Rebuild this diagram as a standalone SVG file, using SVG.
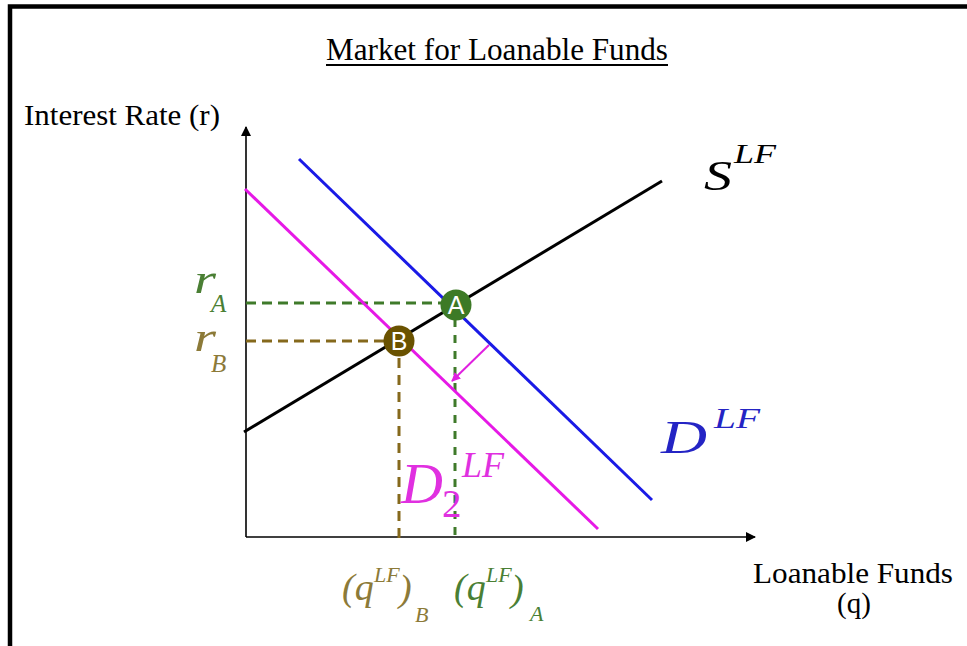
<svg xmlns="http://www.w3.org/2000/svg" width="967" height="646" viewBox="0 0 967 646">
<defs>
<style>
.serif{font-family:"Liberation Serif","Times New Roman",serif;}
.it{font-family:"Liberation Serif","Times New Roman",serif;font-style:italic;}
.lbl{font-family:"Liberation Sans",Arial,sans-serif;fill:#fff;text-anchor:middle;}
.green{fill:#4a7f34;}
.olive{fill:#8c7a38;}
</style>
<marker id="ah" viewBox="0 0 10 10" refX="9" refY="5" markerWidth="10" markerHeight="10" markerUnits="userSpaceOnUse" orient="auto"><path d="M0,0 L10,5 L0,10 z" fill="#000"/></marker>
<marker id="mh" viewBox="0 0 10 10" refX="9" refY="5" markerWidth="9" markerHeight="9" markerUnits="userSpaceOnUse" orient="auto"><path d="M0,0 L10,5 L0,10 z" fill="#e020e0"/></marker>
</defs>
<rect width="967" height="646" fill="#fff"/>
<rect x="10" y="6.5" width="1000" height="700" fill="none" stroke="#000" stroke-width="4.5"/>

<g id="title"><text class="serif" x="497" y="60" font-size="31" text-anchor="middle" textLength="342" lengthAdjust="spacingAndGlyphs">Market for Loanable Funds</text>
<line x1="326" y1="65" x2="668" y2="65" stroke="#000" stroke-width="1.8"/></g>

<g id="axes">
<line x1="246" y1="537" x2="246" y2="127" stroke="#000" stroke-width="1.6" marker-end="url(#ah)"/>
<line x1="246" y1="537" x2="755" y2="537" stroke="#000" stroke-width="1.6" marker-end="url(#ah)"/>
<text class="serif" x="24" y="125" font-size="30" textLength="196" lengthAdjust="spacingAndGlyphs">Interest Rate (r)</text>
<text class="serif" x="853" y="583" font-size="29" text-anchor="middle" textLength="200" lengthAdjust="spacingAndGlyphs">Loanable Funds</text>
<text class="serif" x="854" y="613" font-size="29" text-anchor="middle">(q)</text>
</g>

<g id="connectors">
<line x1="246" y1="303" x2="455" y2="303" stroke="#3f7a2a" stroke-width="3" stroke-dasharray="10,6"/>
<line x1="455" y1="303" x2="455" y2="539" stroke="#3f7a2a" stroke-width="3" stroke-dasharray="8,8"/>
<line x1="246" y1="341" x2="399" y2="341" stroke="#85691c" stroke-width="3" stroke-dasharray="10,6"/>
<line x1="399" y1="341" x2="399" y2="539" stroke="#85691c" stroke-width="3" stroke-dasharray="10,7"/>
<line x1="489" y1="345" x2="452" y2="381" stroke="#e020e0" stroke-width="2" marker-end="url(#mh)"/>
</g>

<g id="supply">
<line x1="244" y1="432" x2="662" y2="181" stroke="#000" stroke-width="3"/>
<text class="it" x="704" y="190" font-size="42" textLength="28" lengthAdjust="spacingAndGlyphs">S</text>
<text class="it" x="734" y="163" font-size="27" textLength="42" lengthAdjust="spacingAndGlyphs">LF</text>
</g>

<g id="demand">
<line x1="299" y1="159" x2="652" y2="500" stroke="#1a1ae6" stroke-width="3"/>
<text class="it" x="661" y="453" font-size="46" fill="#2424c4" textLength="46" lengthAdjust="spacingAndGlyphs">D</text>
<text class="it" x="714" y="428" font-size="30" fill="#2424c4" textLength="46" lengthAdjust="spacingAndGlyphs">LF</text>
</g>

<g id="demand2">
<line x1="245" y1="189" x2="598" y2="529" stroke="#e619e6" stroke-width="3"/>
<text class="it" x="401" y="503" font-size="58" fill="#e030e0">D</text>
<text class="serif" x="442" y="517" font-size="39" fill="#e030e0">2</text>
<text class="it" x="462" y="477" font-size="36" fill="#e030e0">LF</text>
</g>

<g id="pointA">
<circle cx="456" cy="305" r="15.5" fill="#3d7a26"/>
<text class="lbl" x="456" y="314" font-size="25">A</text>
</g>
<g id="pointB">
<circle cx="399" cy="341" r="15.5" fill="#6a5200"/>
<text class="lbl" x="399" y="350" font-size="25">B</text>
</g>

<g id="rA">
<text class="it green" x="194" y="293" font-size="42" textLength="22" lengthAdjust="spacingAndGlyphs">r</text>
<text class="it green" x="211" y="312" font-size="25">A</text>
</g>
<g id="rB">
<text class="it olive" x="194" y="351" font-size="42" textLength="22" lengthAdjust="spacingAndGlyphs">r</text>
<text class="it olive" x="211" y="372" font-size="25">B</text>
</g>

<g id="qB">
<text class="it olive" x="342" y="600" font-size="38">(q</text>
<text class="it olive" x="374" y="582" font-size="22">LF</text>
<text class="it olive" x="399" y="601" font-size="38">)</text>
<text class="it olive" x="415" y="622" font-size="22">B</text>
</g>
<g id="qA">
<text class="it green" x="454" y="600" font-size="38">(q</text>
<text class="it green" x="486" y="582" font-size="22">LF</text>
<text class="it green" x="511" y="601" font-size="38">)</text>
<text class="it green" x="530" y="621" font-size="22">A</text>
</g>
</svg>
